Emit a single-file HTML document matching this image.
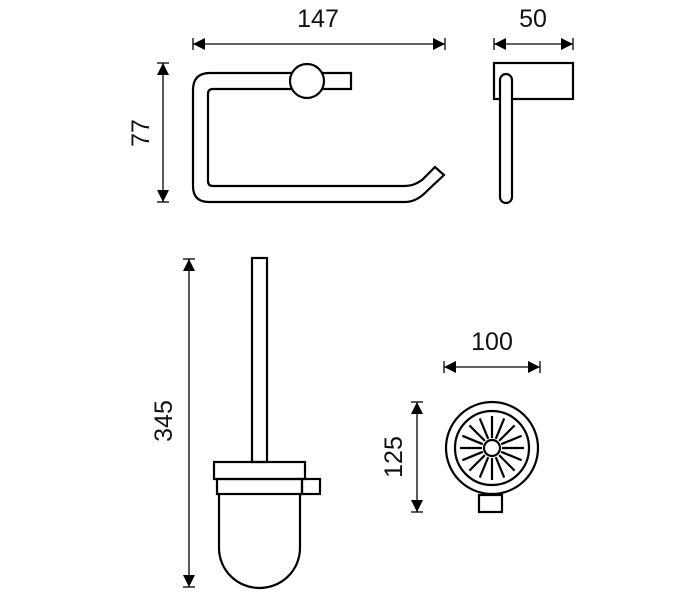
<!DOCTYPE html>
<html><head><style>body{margin:0;background:#fff}svg{display:block}</style></head><body>
<svg width="700" height="600" viewBox="0 0 700 600" xmlns="http://www.w3.org/2000/svg">
<defs>
<marker id="a" viewBox="0 0 10 10" refX="10" refY="5" markerWidth="12" markerHeight="12" markerUnits="userSpaceOnUse" orient="auto-start-reverse"><path d="M0,0L10,5L0,10z" fill="#000"/></marker>
</defs>
<g font-family="Liberation Sans, sans-serif" font-size="25" fill="#111" text-anchor="middle">
<text x="318" y="27">147</text>
<text x="533" y="27">50</text>
<text x="492" y="350">100</text>
<text transform="translate(149,133) rotate(-90)">77</text>
<text transform="translate(172,421) rotate(-90)">345</text>
<text transform="translate(402,457) rotate(-90)">125</text>
</g>
<g stroke="#000" stroke-width="1.3" fill="none">
<line x1="193" y1="44" x2="445" y2="44" marker-start="url(#a)" marker-end="url(#a)"/>
<line x1="193" y1="38" x2="193" y2="50"/><line x1="445" y1="38" x2="445" y2="50"/>
<line x1="494" y1="44" x2="573" y2="44" marker-start="url(#a)" marker-end="url(#a)"/>
<line x1="494" y1="38" x2="494" y2="50"/><line x1="573" y1="38" x2="573" y2="50"/>
<line x1="163" y1="63" x2="163" y2="202" marker-start="url(#a)" marker-end="url(#a)"/>
<line x1="157" y1="63" x2="169" y2="63"/><line x1="157" y1="202" x2="169" y2="202"/>
<line x1="189" y1="259" x2="189" y2="587" marker-start="url(#a)" marker-end="url(#a)"/>
<line x1="183" y1="259" x2="195" y2="259"/><line x1="183" y1="587" x2="195" y2="587"/>
<line x1="444" y1="367" x2="540" y2="367" marker-start="url(#a)" marker-end="url(#a)"/>
<line x1="444" y1="361" x2="444" y2="373"/><line x1="540" y1="361" x2="540" y2="373"/>
<line x1="417" y1="402" x2="417" y2="512" marker-start="url(#a)" marker-end="url(#a)"/>
<line x1="411" y1="402" x2="423" y2="402"/><line x1="411" y1="512" x2="423" y2="512"/>
</g>
<g stroke="#000" stroke-width="2.2" fill="none">
<path d="M351,73 L210,73 Q193,73 193,90 L193,186 Q193,202 209,202 L405,202 Q417,202 428,190 L444,175 L435,167 L422,180 Q414,186 405,186 L213,186 Q208,186 208,181 L208,94 Q208,89 213,89 L351,89 Z" fill="#fff"/>
<circle cx="307" cy="81" r="17" fill="#fff"/>
<rect x="494" y="63" width="79" height="36"/>
<rect x="500" y="74" width="12" height="129" rx="6" fill="#fff"/>
<rect x="252" y="258" width="15" height="204"/>
<rect x="214" y="462" width="91" height="17"/>
<rect x="217" y="479" width="85" height="15"/>
<rect x="302" y="479" width="18" height="15"/>
<path d="M219,494 L219,548 A40.5,40 0 0 0 300,548 L300,494"/>
<circle cx="492" cy="448" r="46"/>
<circle cx="492" cy="448" r="37"/>
<circle cx="492" cy="448" r="8"/>
<rect x="479" y="495" width="23" height="17" fill="#fff"/>
</g>
<g stroke="#000" stroke-width="2.2">
<path d="M502,448L524,448M501.2,451.8L521.6,460.2M499.1,455.1L514.6,470.6M495.8,457.2L504.2,477.6M492,458L492,480M488.2,457.2L479.8,477.6M484.9,455.1L469.4,470.6M482.8,451.8L462.4,460.2M482,448L460,448M482.8,444.2L462.4,435.8M484.9,440.9L469.4,425.4M488.2,438.8L479.8,418.4M492,438L492,416M495.8,438.8L504.2,418.4M499.1,440.9L514.6,425.4M501.2,444.2L521.6,435.8"/>
</g>
</svg>
</body></html>
